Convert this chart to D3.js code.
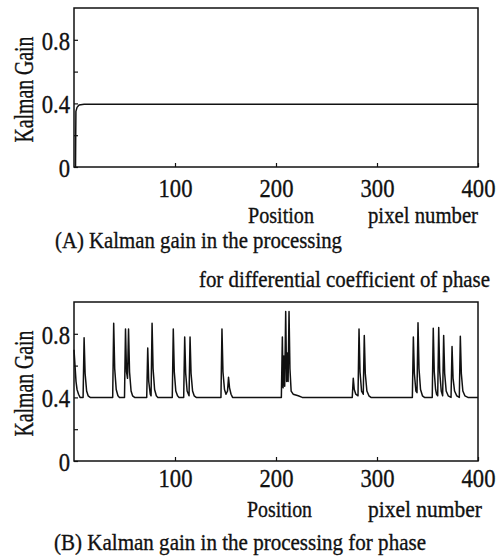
<!DOCTYPE html>
<html lang="en">
<head>
<meta charset="UTF-8">
<title>Kalman Gain</title>
<style>
  body { margin: 0; background: #fff; }
  svg text {
    font-family: "Liberation Serif", "Times New Roman", "DejaVu Serif", serif;
    fill: #111;
    stroke: #111;
    stroke-width: 0.35px;
  }
</style>
</head>
<body>
<svg id="chart" width="497" height="557"></svg>

<script src="https://d3js.org/d3.v7.min.js"></script>
<script>
// position (pixel number) vs Kalman gain
const gainA = [
  [1.5, 0.0], [1.7, 0.2], [1.9, 0.35], [3, 0.375], [5, 0.39], [10, 0.394], [400, 0.394]
];

const gainB = [
  [0,0.70],[1,0.60],[2,0.50],[3,0.45],[4.5,0.42],[6,0.40],
  [9,0.40],[10,0.775],[11,0.55],[12.5,0.44],[14,0.41],[16,0.40],
  [38.3,0.40],[39.3,0.867],[40.3,0.58],[41.8,0.45],[43.5,0.41],[45,0.40],
  [50,0.40],[51,0.83],[52,0.56],[53,0.52],[54,0.83],[55,0.56],[56.5,0.44],[58,0.41],[60,0.40],
  [72,0.40],[73,0.71],[74,0.50],[75.5,0.42],[76.3,0.41],[77.3,0.867],[78.3,0.58],[79.8,0.45],[81.5,0.41],[83,0.40],
  [97.3,0.40],[98.3,0.83],[99.3,0.56],[100.8,0.44],[102.5,0.41],[104,0.40],
  [108.6,0.40],[109.6,0.78],[110.6,0.55],[112,0.44],[113.9,0.41],[114.9,0.78],[115.9,0.55],[117.4,0.44],[119,0.41],[121,0.40],
  [145.5,0.40],[146.5,0.83],[147.5,0.56],[149,0.45],[150.5,0.42],[152,0.44],[153,0.527],[154,0.46],[155.5,0.42],[157,0.40],
  [205.3,0.40],[206.3,0.78],[207,0.46],[207.8,0.66],[208.6,0.47],[209.6,0.94],[210.5,0.50],[211.3,0.68],[212,0.50],[212.9,0.94],[213.8,0.58],[215,0.44],[217,0.42],[222,0.41],[226,0.40],
  [275.5,0.40],[276.5,0.52],[277.5,0.45],[279,0.42],[281.2,0.41],[282.2,0.83],[283.2,0.56],[284.7,0.44],[286.4,0.42],[287.4,0.79],[288.4,0.55],[290,0.44],[292,0.41],[294,0.40],
  [335,0.40],[336,0.78],[337,0.55],[338.5,0.44],[339.6,0.43],[340.6,0.87],[341.6,0.58],[343.1,0.45],[345,0.41],[347,0.40],
  [354.7,0.40],[355.7,0.835],[356.7,0.56],[358,0.45],[359,0.42],[360.1,0.41],[361.1,0.84],[362.1,0.56],[363.6,0.44],[365,0.41],
  [366,0.79],[367,0.55],[368.5,0.44],[370.5,0.41],[373.3,0.40],[374.3,0.72],[375.3,0.52],[376.8,0.44],[379,0.41],
  [381.5,0.40],[382.5,0.785],[383.5,0.55],[385,0.44],[387,0.41],[390,0.40],[400,0.40]
];

const xTicks = [100, 200, 300, 400];
const yTicks = [0, 0.2, 0.4, 0.6, 0.8];
const yLabelled = [0, 0.4, 0.8];

const yTitle = "Kalman Gain";
const xTitle = "Position";
const xUnit = "pixel number";
const captionA = ["(A) Kalman gain in the processing", "for differential coefficient of phase"];
const captionB = ["(B) Kalman gain in the processing for phase"];

const svg = d3.select("#chart");

// rough width of a tick label in the condensed serif of the scan
function labelWidth(s) {
  let w = 0;
  for (const c of s) w += (c === ".") ? 5.7 : 11.3;
  return w;
}

function panel(data, top, bottom, xLabelBase) {
  const x = d3.scaleLinear().domain([0, 400]).range([74, 478]);
  const y = d3.scaleLinear().domain([0, 1]).range([bottom, top]);
  const g = svg.append("g");

  g.append("rect")
      .attr("x", x(0))
      .attr("y", y(1))
      .attr("width", x(400) - x(0))
      .attr("height", y(0) - y(1))
      .attr("fill", "none")
      .attr("stroke", "#111")
      .attr("stroke-width", 1.5);

  const xa = g.append("g")
      .attr("transform", `translate(0,${y(0)})`)
      .call(d3.axisBottom(x).tickValues(xTicks).tickSize(-4).tickFormat(d3.format("d")));
  xa.select(".domain").remove();
  xa.selectAll("line").attr("stroke", "#111").attr("stroke-width", 1.2);
  xa.selectAll("text")
      .attr("y", xLabelBase)
      .attr("dy", null)
      .attr("font-size", 26)
      .attr("textLength", function() { return labelWidth(this.textContent); })
      .attr("lengthAdjust", "spacingAndGlyphs");

  const ya = g.append("g")
      .attr("transform", `translate(${x(0)},0)`)
      .call(d3.axisLeft(y).tickValues(yTicks).tickSize(-4).tickPadding(4)
        .tickFormat(d => yLabelled.includes(d) ? (d === 0 ? "0" : d3.format(".1f")(d)) : ""));
  ya.select(".domain").remove();
  ya.selectAll("line").attr("stroke", "#111").attr("stroke-width", 1.2);
  ya.selectAll("text")
      .attr("dy", "0.36em")
      .attr("font-size", 26)
      .filter(function() { return this.textContent !== ""; })
      .attr("textLength", function() { return labelWidth(this.textContent); })
      .attr("lengthAdjust", "spacingAndGlyphs");

  g.append("path")
      .datum(data)
      .attr("fill", "none")
      .attr("stroke", "#111")
      .attr("stroke-width", 1.5)
      .attr("stroke-linejoin", "round")
      .attr("d", d3.line().x(d => x(d[0])).y(d => y(d[1])));

  g.append("text")
      .attr("transform", `translate(33,${(top + bottom) / 2 + 2}) rotate(-90)`)
      .attr("text-anchor", "middle")
      .attr("font-size", 28)
      .attr("textLength", 106)
      .attr("lengthAdjust", "spacingAndGlyphs")
      .text(yTitle);
}

function label(txt, x, y, size, len) {
  svg.append("text")
      .attr("x", x)
      .attr("y", y)
      .attr("font-size", size)
      .attr("textLength", len)
      .attr("lengthAdjust", "spacingAndGlyphs")
      .text(txt);
}

panel(gainA, 8, 167, 30);
label(xTitle, 248, 223, 24, 66);
label(xUnit, 368, 223, 24, 110);
label(captionA[0], 55, 248, 24, 287);
label(captionA[1], 199, 287, 24, 291);

panel(gainB, 302, 461, 26);
label(xTitle, 247, 517, 24, 65);
label(xUnit, 368, 517, 24, 114);
label(captionB[0], 54, 550, 24, 372);
</script>
</body>
</html>
